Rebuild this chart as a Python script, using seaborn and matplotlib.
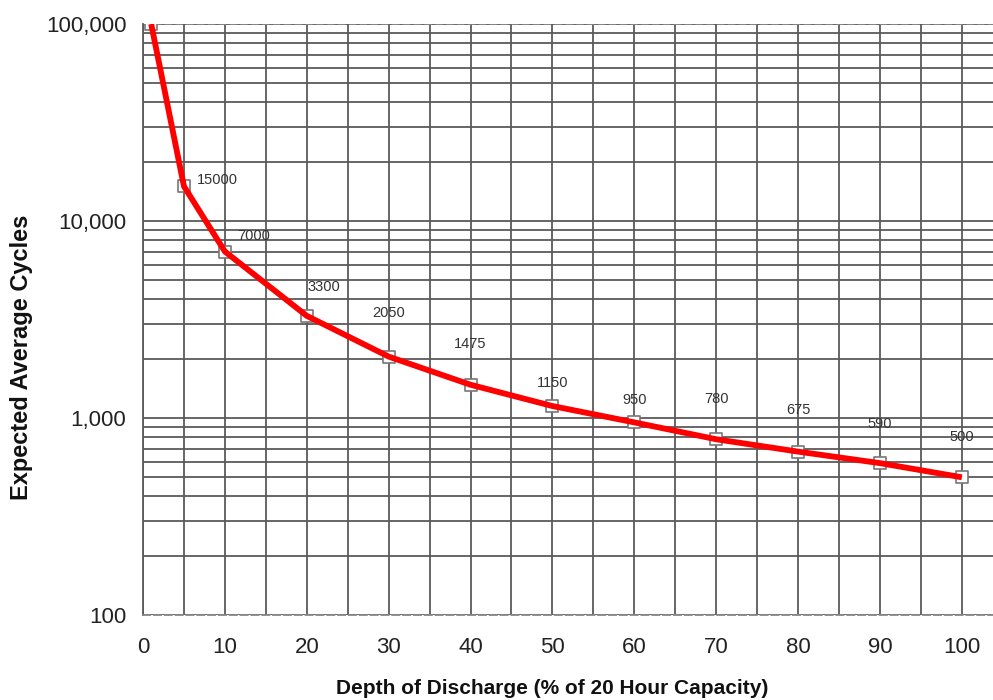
import matplotlib
matplotlib.use("Agg")
import matplotlib.pyplot as plt
import matplotlib.ticker as mticker
import seaborn as sns
import pandas as pd

# ---- data ----
depth = [1, 5, 10, 20, 30, 40, 50, 60, 70, 80, 90, 100]
cycles = [100000, 15000, 7000, 3300, 2050, 1475, 1150, 950, 780, 675, 590, 500]
point_labels = ["", "15000", "7000", "3300", "2050", "1475", "1150", "950", "780", "675", "590", "500"]
x_ticks = [0, 10, 20, 30, 40, 50, 60, 70, 80, 90, 100]
y_ticks = [100, 1000, 10000, 100000]
y_tick_labels = ["100", "1,000", "10,000", "100,000"]

# label offsets in pixels (style only)
label_offsets = [(0, 0), (33, 6), (29, 16), (17, 29), (0, 44), (0, 41), (0, 23),
                 (0, 22), (0, 40), (0, 42), (0, 39), (0, 40)]

df = pd.DataFrame({"depth": depth, "cycles": cycles})

sns.set_theme(style="white")
plt.rcParams["font.family"] = ["Liberation Sans", "DejaVu Sans"]

W, H = 993, 700
left_px, top_px, bottom_px = 143, 24, 615
fig = plt.figure(figsize=(W / 100, H / 100), dpi=100)
ax = fig.add_axes([left_px / W, 1 - bottom_px / H, (W - left_px) / W, (bottom_px - top_px) / H])

ax.set_yscale("log")
ax.set_xlim(0, 103.8)
ax.set_ylim(100, 100000)

grid_color = "#5a5a5a"
ax.xaxis.set_major_locator(mticker.FixedLocator(x_ticks))
ax.xaxis.set_minor_locator(mticker.MultipleLocator(5))
ax.yaxis.set_major_locator(mticker.FixedLocator(y_ticks))
ax.yaxis.set_major_formatter(mticker.FixedFormatter(y_tick_labels))
ax.yaxis.set_minor_locator(mticker.LogLocator(base=10, subs=range(2, 10)))
ax.yaxis.set_minor_formatter(mticker.NullFormatter())

ax.grid(True, which="both", color=grid_color, linewidth=1.3, zorder=0)
ax.set_axisbelow(True)

for s in ["top", "right"]:
    ax.spines[s].set_visible(False)
ax.spines["left"].set_color(grid_color)
ax.spines["left"].set_linewidth(1.3)
ax.spines["bottom"].set_color("#888888")
ax.spines["bottom"].set_linestyle((0, (4, 2)))
ax.spines["bottom"].set_linewidth(1.3)

ax.tick_params(axis="both", which="both", direction="out", color=grid_color, width=1.2)
ax.tick_params(axis="y", which="major", length=6, labelsize=16, labelcolor="#222222", pad=6)
ax.tick_params(axis="y", which="minor", length=4)
ax.tick_params(axis="x", which="major", length=6, labelsize=16, labelcolor="#222222", pad=10)
ax.tick_params(axis="x", which="minor", length=0)

# markers (behind the line)
sns.scatterplot(data=df, x="depth", y="cycles", ax=ax, marker="s", s=80,
                facecolor="white", edgecolor="#777777", linewidth=1.2, zorder=3)
# red curve
sns.lineplot(data=df, x="depth", y="cycles", ax=ax, color="#ff0000", linewidth=4.2,
             zorder=4, solid_capstyle="butt")

# dashed top line at 100,000
ax.axhline(100000, color="#888888", linestyle=(0, (4, 2)), linewidth=1.3, zorder=1)

for xv, yv, lab, (dx, dy) in zip(depth, cycles, point_labels, label_offsets):
    if lab:
        ax.annotate(lab, (xv, yv), xytext=(dx, dy), textcoords="offset pixels",
                    ha="center", va="center", fontsize=10.5, color="#333333", zorder=5)

ax.set_xlabel("Depth of Discharge (% of 20 Hour Capacity)", fontsize=15,
              fontweight="bold", color="#111111")
ax.set_ylabel("Expected Average Cycles", fontsize=17, fontweight="bold",
              color="#111111")
ax.xaxis.label.set_va("center")
ax.yaxis.label.set_va("center")
ax.xaxis.set_label_coords((552 - left_px) / (W - left_px), -(688 - bottom_px) / (bottom_px - top_px))
ax.yaxis.set_label_coords(-(left_px - 22) / (W - left_px), (bottom_px - 357) / (bottom_px - top_px))

fig.savefig("out.png", dpi=100)
